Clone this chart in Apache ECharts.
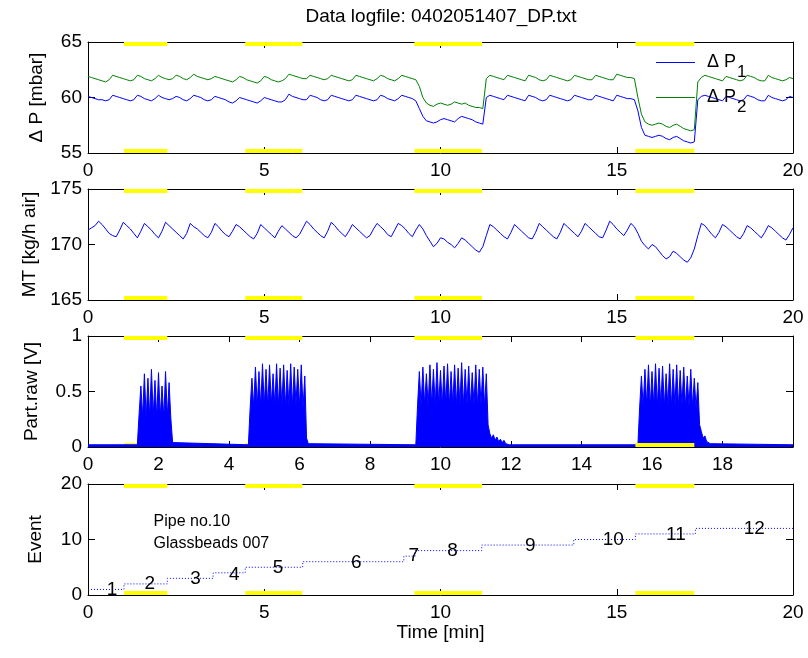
<!DOCTYPE html>
<html>
<head>
<meta charset="utf-8">
<script src="https://cdn.jsdelivr.net/npm/echarts@6/dist/echarts.min.js"></script>
<style>
  html, body { margin: 0; padding: 0; background: #fff; }
  #chart { width: 808px; height: 658px; }
</style>
</head>
<body>
<div id="chart"></div>
<script>
// sample step of the logged signals [min]
const dt = 0.1

// differential pressures [mbar], t = 0 .. 20 min
const dP1 = [
  60.1, 60.0, 59.9, 59.8, 59.8, 59.7, 59.8,
  60.2, 60.1, 60.0, 59.9, 59.8, 59.7, 59.8,
  60.2, 60.1, 59.9, 59.8, 59.7, 59.9,
  60.2, 60.0, 59.9, 59.8, 59.9,
  60.1, 60.0, 59.8, 59.7, 59.9,
  60.2, 60.1, 60.0, 59.8, 59.7, 59.8,
  60.1, 60.0, 59.9, 59.8, 59.6, 59.5, 59.7,
  60.0, 59.9, 59.8, 59.7, 59.6, 59.5, 59.7,
  60.0, 59.9, 59.8, 59.7, 59.6, 59.6, 59.8,
  60.3, 60.1, 60.0, 59.9, 59.8, 59.8,
  60.2, 60.1, 60.0, 59.8, 59.7, 59.8,
  60.2, 60.1, 60.0, 59.9, 59.8, 59.7, 59.8,
  60.2, 60.1, 60.0, 59.9, 59.8, 59.7, 59.8,
  60.2, 60.1, 59.9, 59.8, 59.7, 59.9,
  60.2, 60.1, 60.0, 59.9, 59.7,
  59.0, 58.3, 57.9, 57.8, 57.7, 57.8, 58.0, 58.1, 58.0, 57.9, 57.8, 58.1, 58.3, 58.2, 58.1, 58.0, 57.8, 57.7, 57.6,
  60.0, 60.2, 60.1, 60.0, 59.9, 59.8,
  60.2, 60.1, 60.0, 59.9, 59.8, 59.7,
  60.2, 60.1, 60.0, 59.8, 59.7, 59.8,
  60.2, 60.1, 60.0, 59.9, 59.8, 59.7, 59.8,
  60.2, 60.1, 60.0, 59.9, 59.8, 59.8,
  60.2, 60.1, 60.0, 59.9, 59.8, 59.7,
  60.2, 60.1, 60.0, 59.9, 59.9, 59.8,
  58.8, 57.3, 56.6, 56.5, 56.4, 56.5, 56.6, 56.5, 56.3, 56.2, 56.4, 56.5, 56.3, 56.1, 56.0, 55.9, 56.0,
  59.8, 60.1,
  60.2, 60.1, 60.0, 59.9, 59.8, 59.7,
  60.1, 60.0, 59.9, 59.8, 59.7, 59.8,
  60.2, 60.1, 60.0, 59.8, 59.7, 59.7,
  60.2, 60.0, 59.9, 59.8, 59.7, 59.8,
  60.1, 60.0
]
const dP2 = [
  61.9, 61.8, 61.7, 61.6, 61.5, 61.4, 61.6,
  62.0, 61.9, 61.8, 61.7, 61.6, 61.5, 61.6,
  62.0, 61.9, 61.7, 61.6, 61.5, 61.7,
  62.0, 61.8, 61.7, 61.6, 61.7,
  62.0, 61.9, 61.7, 61.6, 61.8,
  62.1, 61.9, 61.8, 61.7, 61.6, 61.7,
  61.9, 61.8, 61.7, 61.6, 61.5, 61.4, 61.6,
  61.9, 61.8, 61.6, 61.5, 61.4, 61.3, 61.5,
  61.9, 61.8, 61.6, 61.5, 61.4, 61.5, 61.7,
  62.1, 62.0, 61.9, 61.8, 61.7, 61.7,
  62.0, 61.9, 61.8, 61.7, 61.6, 61.7,
  62.0, 61.9, 61.8, 61.7, 61.6, 61.5, 61.6,
  62.0, 61.9, 61.8, 61.7, 61.6, 61.5, 61.7,
  62.0, 61.9, 61.7, 61.6, 61.5, 61.7,
  62.0, 61.9, 61.8, 61.7, 61.6,
  61.0, 60.0, 59.5, 59.3, 59.2, 59.4, 59.5, 59.4, 59.3, 59.4, 59.6, 59.5, 59.4, 59.5, 59.3, 59.2, 59.1, 59.1, 59.0,
  61.7, 62.0, 61.9, 61.8, 61.7, 61.6,
  62.0, 61.9, 61.8, 61.7, 61.6, 61.5,
  62.0, 61.9, 61.8, 61.6, 61.5, 61.6,
  62.0, 61.9, 61.8, 61.7, 61.6, 61.5, 61.6,
  62.0, 61.9, 61.8, 61.7, 61.6, 61.6,
  62.0, 61.9, 61.8, 61.7, 61.6, 61.6,
  62.1, 62.0, 61.9, 61.8, 61.8, 61.7,
  60.0, 58.5, 57.8, 57.6, 57.5, 57.6, 57.7, 57.6, 57.4, 57.3, 57.5, 57.6, 57.4, 57.2, 57.1, 57.0, 57.1,
  61.4, 61.8,
  62.0, 61.9, 61.8, 61.7, 61.6, 61.5,
  61.9, 61.8, 61.7, 61.6, 61.5, 61.6,
  62.0, 61.9, 61.8, 61.6, 61.5, 61.5,
  62.0, 61.8, 61.7, 61.6, 61.5, 61.6,
  61.8, 61.7
]

// mass throughput of air [kg/h]
const mt = [
  171.3, 171.5, 171.7,
  172.1, 171.8, 171.4, 171.0, 170.8, 170.7, 171.3,
  172.0, 171.7, 171.4, 171.0, 170.6, 171.2,
  171.9, 171.6, 171.3, 170.9, 170.6, 171.2,
  172.0, 171.7, 171.4, 171.1, 170.8, 170.5, 171.0,
  171.9, 171.6, 171.4, 171.1, 170.8, 170.6, 171.1,
  171.9, 171.6, 171.2, 170.9, 170.7, 171.2,
  171.8, 171.6, 171.3, 171.0, 170.7, 170.5, 171.0,
  171.8, 171.5, 171.2, 170.9, 170.6, 171.2,
  171.7, 171.4, 171.1, 170.8, 170.6, 170.9, 171.5,
  172.1, 171.8, 171.4, 171.1, 170.8, 170.6, 171.2,
  172.0, 171.7, 171.3, 171.0, 170.7, 171.2,
  171.8, 171.5, 171.2, 170.9, 170.6, 170.8, 171.4,
  171.9, 171.6, 171.3, 170.9, 170.7, 171.3,
  171.9, 171.7, 171.4, 171.0, 170.7, 171.3,
  171.8, 171.4, 170.8, 170.3, 169.8, 170.1,
  170.6, 170.5, 170.2, 170.0, 169.7, 170.1,
  170.6, 170.4, 170.1, 169.8, 169.5, 169.3, 169.8, 170.8,
  171.8, 171.6, 171.3, 171.0, 170.7, 170.5, 171.1,
  171.8, 171.5, 171.2, 170.9, 170.6, 170.5, 171.1,
  171.9, 171.6, 171.3, 171.0, 170.7, 170.5, 171.1,
  171.9, 171.6, 171.3, 171.0, 170.7, 171.2,
  171.9, 171.6, 171.3, 171.0, 170.7, 170.6, 171.3,
  172.1, 171.8, 171.4, 171.1, 170.8, 171.3,
  171.9, 171.6, 171.0, 170.3, 169.9, 169.6,
  170.0, 169.8, 169.4, 169.0, 168.7, 168.9,
  169.4, 169.2, 168.9, 168.6, 168.4, 168.8, 169.6, 170.8,
  171.9, 171.7, 171.3, 170.9, 170.6, 171.1,
  171.8, 171.6, 171.3, 171.0, 170.7, 170.5, 171.0,
  171.7, 171.5, 171.2, 170.9, 170.6, 171.1,
  171.7, 171.5, 171.2, 170.9, 170.6, 170.4, 170.9,
  171.5
]

// particle sensor raw signal [V]: bursts sampled every partStep min from burstStart
const partStep = 0.05
const partBase = 0.02
const burstStart = [1.40, 4.55, 9.30, 15.60]
const burst1 = [0.02, 0.30, 0.55, 0.27, 0.66, 0.26, 0.62, 0.27, 0.70, 0.28, 0.60, 0.26, 0.67, 0.27, 0.55, 0.26, 0.68, 0.27, 0.58, 0.26, 0.04]
const burst2 = [0.02, 0.35, 0.62, 0.36, 0.72, 0.37, 0.68, 0.36, 0.75, 0.37, 0.70, 0.36, 0.74, 0.38, 0.66, 0.37, 0.75, 0.36, 0.71, 0.37,
  0.74, 0.36, 0.69, 0.37, 0.75, 0.36, 0.72, 0.38, 0.70, 0.36, 0.74, 0.35, 0.64, 0.08, 0.03]
const burst3 = [0.02, 0.38, 0.68, 0.37, 0.72, 0.38, 0.66, 0.37, 0.74, 0.38, 0.70, 0.37, 0.76, 0.38, 0.69, 0.37, 0.73, 0.38, 0.75, 0.37,
  0.68, 0.38, 0.74, 0.37, 0.71, 0.38, 0.76, 0.37, 0.70, 0.38, 0.73, 0.37, 0.67, 0.38, 0.74, 0.37, 0.70, 0.38, 0.72, 0.36,
  0.66, 0.20, 0.12, 0.08, 0.11, 0.06, 0.09, 0.05, 0.07, 0.04, 0.06, 0.03, 0.04, 0.02, 0.03, 0.02]
const burst4 = [0.02, 0.36, 0.64, 0.36, 0.70, 0.37, 0.74, 0.36, 0.68, 0.37, 0.75, 0.36, 0.71, 0.37, 0.73, 0.36, 0.66, 0.37, 0.75, 0.36,
  0.70, 0.37, 0.74, 0.36, 0.69, 0.37, 0.72, 0.36, 0.64, 0.37, 0.70, 0.36, 0.62, 0.35, 0.58, 0.20, 0.14, 0.08, 0.10, 0.05, 0.06, 0.03]
const bursts = [burst1, burst2, burst3, burst4]

// event counter steps
const eventTime = [0, 1.02, 2.25, 3.55, 4.46, 6.09, 8.96, 9.28, 11.17, 13.78, 15.53, 17.23, 20]
const eventLevel = [1, 2, 3, 4, 5, 6, 7, 8, 9, 10, 11, 12, 12]
const eventLabels = ['1', '2', '3', '4', '5', '6', '7', '8', '9', '10', '11', '12']
const eventLabelX = [0.53, 1.60, 2.90, 4.00, 5.24, 7.46, 9.09, 10.19, 12.40, 14.60, 16.40, 18.60]
const eventLabelY = [1.0, 2.0, 2.9, 3.7, 4.9, 5.8, 7.0, 7.9, 8.8, 9.9, 10.8, 11.9]
const noteText = 'Pipe no.10\nGlassbeads 007'
const notePos = [1.86, 11.2]

// feeding periods (yellow marks) [min]
const feedStart = [1.02, 4.46, 9.26, 15.53]
const feedEnd = [2.25, 6.08, 11.18, 17.20]

// axes
const yMin = [55, 165, 0, 0]
const yMax = [65, 175, 1, 20]
const yStep = [5, 5, 0.5, 10]
const xStep = [5, 5, 2, 5]
const yNames = ['Δ P [mbar]', 'MT [kg/h air]', 'Part.raw [V]', 'Event']

const font = "'Liberation Sans', Arial, Helvetica, sans-serif"
const gridTop = [42, 189, 336, 484]
const nameGap = [42, 43, 47, 43]

const chart = echarts.init(document.getElementById('chart'))

const grids = []
const xAxes = []
const yAxes = []
const series = []

const edge = { show: true, onZero: false, lineStyle: { color: '#000', width: 1 } }

for (let g = 0; g < 4; g++) {
  grids.push({ left: 88, top: gridTop[g], width: 705, height: 111, containLabel: false, outerBoundsMode: 'none' })
  for (const pos of ['bottom', 'top']) {
    xAxes.push({
      gridIndex: g, type: 'value', position: pos, min: 0, max: 20, interval: xStep[g],
      axisLine: edge,
      axisTick: { show: true, inside: true, length: 6, lineStyle: { color: '#000' } },
      axisLabel: {
        show: pos === 'bottom', margin: 8, color: '#000', fontSize: 19, fontFamily: font,
        showMaxLabel: g !== 2, showMinLabel: true
      },
      splitLine: { show: false },
      name: (g === 3 && pos === 'bottom') ? 'Time [min]' : '',
      nameLocation: 'middle', nameGap: 27,
      nameTextStyle: { color: '#000', fontSize: 19, fontFamily: font }
    })
  }
  for (const pos of ['left', 'right']) {
    yAxes.push({
      gridIndex: g, type: 'value', position: pos, min: yMin[g], max: yMax[g], interval: yStep[g],
      axisLine: edge,
      axisTick: { show: true, inside: true, length: 7, lineStyle: { color: '#000' } },
      axisLabel: { show: pos === 'left', margin: 6, color: '#000', fontSize: 19, fontFamily: font },
      splitLine: { show: false },
      name: pos === 'left' ? yNames[g] : '',
      nameLocation: 'middle', nameGap: nameGap[g],
      nameTextStyle: { color: '#000', fontSize: 19, fontFamily: font }
    })
  }
}

// yellow feeding marks along the top and bottom edge of every panel
function feedSeries(g, edgeValue, dir, idx, z) {
  return {
    type: 'custom', xAxisIndex: 2 * g, yAxisIndex: 2 * g, z: z, silent: true,
    encode: { x: [0, 1], y: 2 },
    data: idx.map(k => [feedStart[k], feedEnd[k], edgeValue, dir]),
    renderItem: (params, api) => {
      const a = api.coord([api.value(0), api.value(2)])
      const b = api.coord([api.value(1), api.value(2)])
      const h = 4
      return {
        type: 'rect',
        shape: { x: a[0], y: api.value(3) > 0 ? a[1] : a[1] - h, width: b[0] - a[0], height: h },
        style: { fill: '#ffff00' }
      }
    }
  }
}
for (let g = 0; g < 4; g++) {
  series.push(feedSeries(g, yMax[g], 1, [0, 1, 2, 3], 3))
  if (g === 2) {
    series.push(feedSeries(g, yMin[g], -1, [0, 1, 2], 1))
    series.push(feedSeries(g, yMin[g], -1, [3], 4))
  } else {
    series.push(feedSeries(g, yMin[g], -1, [0, 1, 2, 3], 1))
  }
}

// panel 1: pressures
series.push({
  name: 'ΔP1', type: 'line', xAxisIndex: 0, yAxisIndex: 0, symbol: 'none', z: 2,
  lineStyle: { color: '#0000ff', width: 1 }, itemStyle: { color: '#0000ff' },
  data: dP1.map((v, i) => [i * dt, v])
})
series.push({
  name: 'ΔP2', type: 'line', xAxisIndex: 0, yAxisIndex: 0, symbol: 'none', z: 2,
  lineStyle: { color: '#008000', width: 1 }, itemStyle: { color: '#008000' },
  data: dP2.map((v, i) => [i * dt, v])
})

// panel 2: mass throughput
series.push({
  type: 'line', xAxisIndex: 2, yAxisIndex: 2, symbol: 'none', z: 2,
  lineStyle: { color: '#0000ff', width: 1 },
  data: mt.map((v, i) => [i * dt, v])
})

// panel 3: particle signal
const partData = [[0, partBase]]
bursts.forEach((vals, k) => {
  vals.forEach((v, i) => partData.push([burstStart[k] + i * partStep, v]))
})
partData.push([20, partBase])
series.push({
  type: 'line', xAxisIndex: 4, yAxisIndex: 4, symbol: 'none', z: 2,
  lineStyle: { color: '#0000ff', width: 1 },
  areaStyle: { color: '#0000ff', opacity: 1, origin: 'start' },
  data: partData
})

// panel 4: event counter
series.push({
  type: 'line', xAxisIndex: 6, yAxisIndex: 6, symbol: 'none', step: 'end', z: 2,
  lineStyle: { color: '#0000ff', width: 1, type: [1, 2] },
  data: eventTime.map((t, i) => [t, eventLevel[i]])
})
series.push({
  type: 'scatter', xAxisIndex: 6, yAxisIndex: 6, symbolSize: 0, z: 5, silent: true,
  itemStyle: { opacity: 1 },
  data: eventLabelX.map((x, i) => [x, eventLabelY[i]]),
  label: {
    show: true, position: 'right', distance: 0, color: '#000', fontSize: 19, fontFamily: font,
    formatter: p => eventLabels[p.dataIndex]
  }
})
series.push({
  type: 'scatter', xAxisIndex: 6, yAxisIndex: 6, symbolSize: 0, z: 5, silent: true,
  itemStyle: { opacity: 1 },
  data: [notePos],
  label: {
    show: true, position: 'right', distance: 0, color: '#000', fontSize: 16, lineHeight: 22,
    fontFamily: font, formatter: noteText
  }
})

const legendRich = {
  a: { fontSize: 18, lineHeight: 18, fontFamily: font, color: '#000', padding: [0, 0, 0, 7] },
  s: { fontSize: 17, lineHeight: 18, fontFamily: font, color: '#000', padding: [20, 0, 0, 1] }
}
function legendFor(name, top) {
  return {
    data: [name], left: 656, top: top, orient: 'vertical', padding: 0,
    icon: 'rect', itemWidth: 39, itemHeight: 1, selectedMode: false,
    formatter: n => '{a|Δ P}{s|' + n.slice(2) + '}',
    textStyle: { rich: legendRich }
  }
}

chart.setOption({
  animation: false,
  backgroundColor: '#fff',
  title: {
    text: 'Data logfile: 0402051407_DP.txt', left: 441, top: 7, textAlign: 'center', padding: 0,
    textStyle: { color: '#000', fontSize: 19, fontWeight: 'normal', fontFamily: font }
  },
  legend: [legendFor('ΔP1', 44), legendFor('ΔP2', 79)],
  grid: grids,
  xAxis: xAxes,
  yAxis: yAxes,
  series: series
})
</script>
</body>
</html>
